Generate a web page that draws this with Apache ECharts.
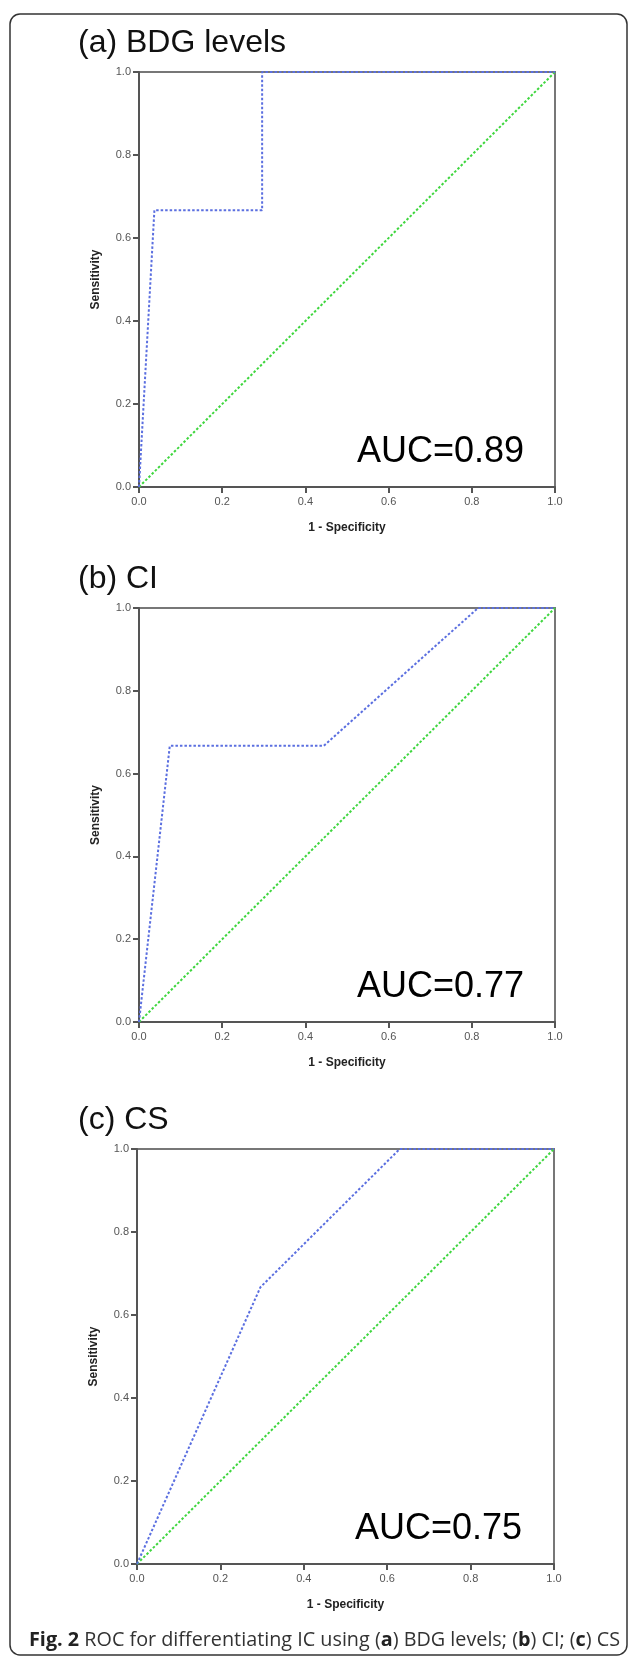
<!DOCTYPE html>
<html><head><meta charset="utf-8">
<script src="https://cdn.jsdelivr.net/npm/echarts@6/dist/echarts.min.js"></script>
<style>html,body{margin:0;padding:0;background:#fff}#c{width:629px;height:1658px}</style>
</head><body><div id="c"></div>
<script>
// ---- data ----
const panelTitles = ['(a) BDG levels', '(b) CI', '(c) CS'];
const aucLabels = ['AUC=0.89', 'AUC=0.77', 'AUC=0.75'];
const rocA = [[0, 0], [0.037, 0.667], [0.296, 0.667], [0.296, 1], [1, 1]];
const rocB = [[0, 0], [0.074, 0.667], [0.444, 0.667], [0.815, 1], [1, 1]];
const rocC = [[0, 0], [0.296, 0.667], [0.63, 1], [1, 1]];
const refLine = [[0, 0], [1, 1]];
const axisMin = 0, axisMax = 1, axisStep = 0.2;
const xName = '1 - Specificity';
const yName = 'Sensitivity';
const captionBold = 'Fig. 2';
const captionText = ' ROC for differentiating IC using (';

// ---- layout ----
const grids = [
  {left: 139, top: 72, width: 416, height: 415},
  {left: 139, top: 608, width: 416, height: 414},
  {left: 137, top: 1149, width: 417, height: 415}
];
const rocs = [rocA, rocB, rocC];
const FONT = '"Liberation Sans", Arial, sans-serif';

const chart = echarts.init(document.getElementById('c'), null, {renderer: 'canvas'});

const xAxes = [], yAxes = [], series = [], titles = [], graphics = [];
grids.forEach((g, i) => {
  xAxes.push({
    type: 'value', gridIndex: i, min: axisMin, max: axisMax, interval: axisStep,
    name: xName, nameLocation: 'middle', nameGap: 35,
    nameTextStyle: {fontFamily: FONT, fontWeight: 'bold', fontSize: 12, color: '#222'},
    axisLine: {show: true, onZero: false, lineStyle: {color: '#555', width: 2}},
    axisTick: {show: true, length: 6, lineStyle: {color: '#555', width: 2}},
    axisLabel: {fontFamily: FONT, fontSize: 11, color: '#555', margin: 9, showMinLabel: true, showMaxLabel: true,
      formatter: v => v.toFixed(1)},
    splitLine: {show: false}
  });
  yAxes.push({
    type: 'value', gridIndex: i, min: axisMin, max: axisMax, interval: axisStep,
    name: yName, nameLocation: 'middle', nameGap: 37,
    nameTextStyle: {fontFamily: FONT, fontWeight: 'bold', fontSize: 12, color: '#222'},
    axisLine: {show: true, onZero: false, lineStyle: {color: '#555', width: 2}},
    axisTick: {show: true, length: 6, lineStyle: {color: '#555', width: 2}},
    axisLabel: {fontFamily: FONT, fontSize: 11, color: '#555', margin: 8, showMinLabel: true, showMaxLabel: true,
      formatter: v => v.toFixed(1)},
    splitLine: {show: false}
  });
  series.push({
    type: 'line', xAxisIndex: i, yAxisIndex: i, data: refLine, showSymbol: false, clip: false,
    lineStyle: {color: '#3fd63f', width: 2, type: [2.5, 2]}, silent: true, z: 3
  });
  series.push({
    type: 'line', xAxisIndex: i, yAxisIndex: i, data: rocs[i], showSymbol: false, clip: false,
    lineStyle: {color: '#5b6fe0', width: 2, type: [2.5, 2]}, silent: true, z: 4
  });
  titles.push({
    text: panelTitles[i], left: 78, top: g.top - 45, padding: 0,
    textStyle: {fontFamily: FONT, fontWeight: 'normal', fontSize: 32, color: '#111'}
  });
  graphics.push({
    type: 'text', x: g.left + 385, y: g.top + g.height - 35,
    style: {text: aucLabels[i], font: '36px ' + FONT, fill: '#000', textAlign: 'right', textVerticalAlign: 'middle'},
    z: 10
  });
});

graphics.push({
  type: 'rect', shape: {x: 10, y: 14, width: 617, height: 1641, r: 10},
  style: {fill: 'none', stroke: '#333', lineWidth: 1.5}, silent: true, z: 0
});
graphics.push({
  type: 'text', x: 29, y: 1640,
  style: {
    text: '{b|' + captionBold + '}' + captionText + '{b|a}) BDG levels; ({b|b}) CI; ({b|c}) CS',
    fontFamily: '"Open Sans", sans-serif', fontSize: 19.8, fill: '#333', textVerticalAlign: 'middle',
    rich: {b: {fontFamily: '"Open Sans", sans-serif', fontSize: 19.8, fontWeight: 'bold', fill: '#222'}}
  },
  z: 10
});

chart.setOption({
  animation: false,
  backgroundColor: '#fff',
  title: titles,
  grid: grids.map(g => Object.assign({show: true, borderColor: '#777', borderWidth: 2, backgroundColor: 'transparent'}, g)),
  xAxis: xAxes,
  yAxis: yAxes,
  series: series,
  graphic: graphics
});
</script>
</body></html>
